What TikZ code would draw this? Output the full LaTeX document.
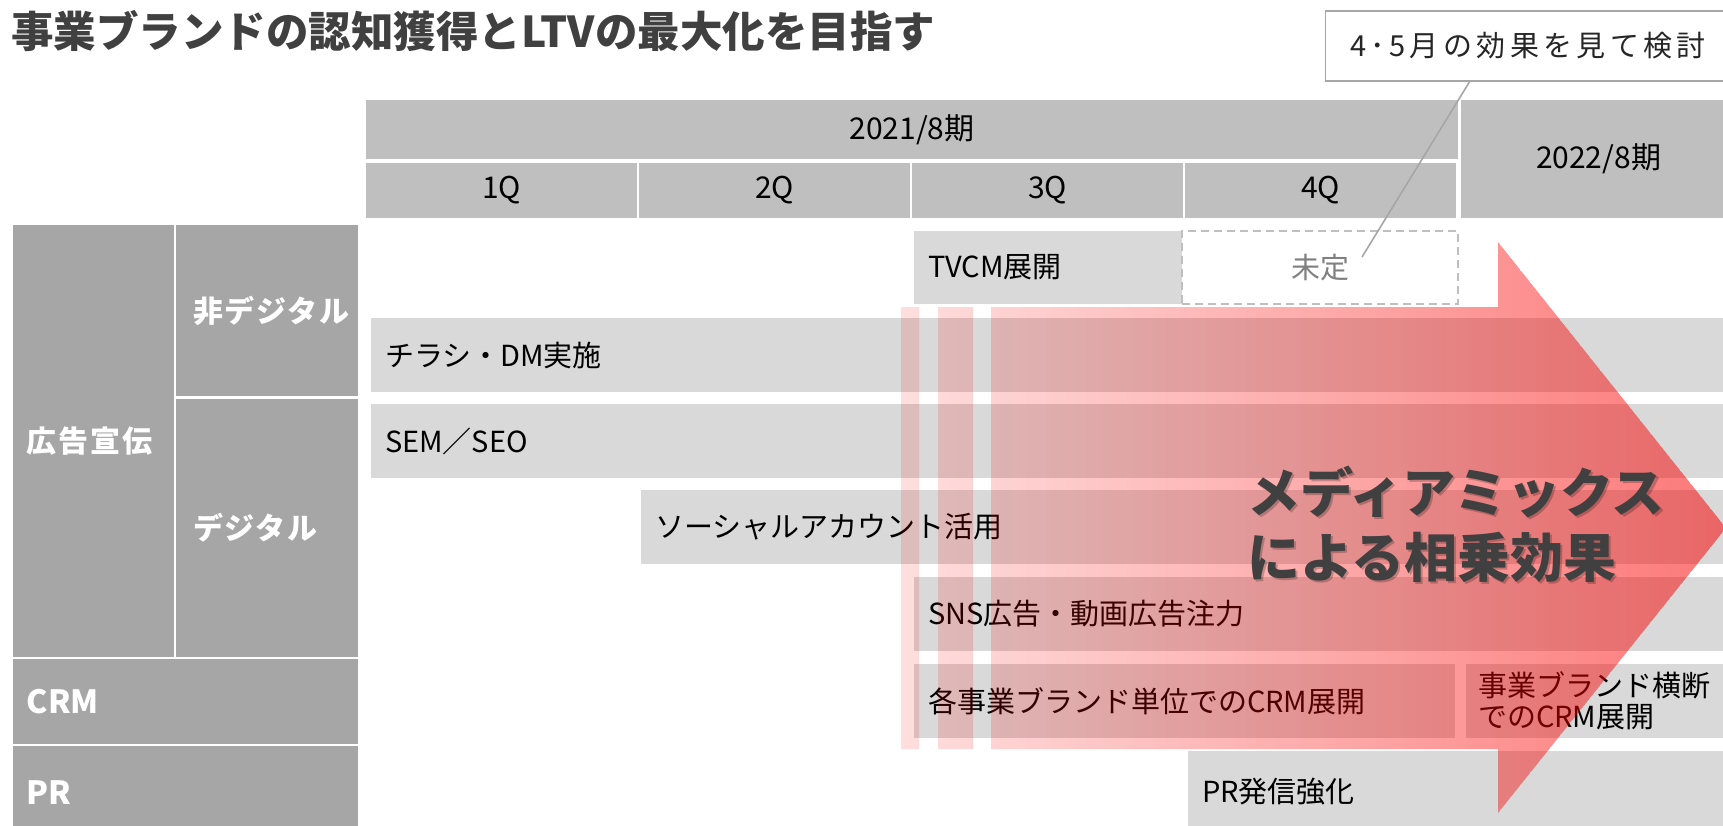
\documentclass[tikz,border=0pt]{standalone}
\usepackage{fontspec}
\setmainfont{Noto Sans CJK JP}
\usetikzlibrary{positioning}

\definecolor{hdrgray}{HTML}{BFBFBF}
\definecolor{rowgray}{HTML}{A6A6A6}
\definecolor{bargray}{HTML}{D9D9D9}
\definecolor{inkgray}{HTML}{404040}
\definecolor{notegray}{HTML}{A6A6A6}
\definecolor{dashgray}{HTML}{BFBFBF}
\definecolor{mixred}{RGB}{250,0,0}

\newcommand\fs[1]{\fontsize{#1}{#1}\selectfont}

\begin{document}
\begin{tikzpicture}[x=1pt,y=-1pt,
    every node/.append style={inner sep=0pt,outer sep=0pt},
    hdrcell/.style={fill=hdrgray,font=\fs{30}},
    rowcell/.style={fill=rowgray,text=white,anchor=north west,align=left,
                    inner xsep=14pt,font=\fs{30}\bfseries\addfontfeature{LetterSpace=6}},
    taskbar/.style={fill=bargray,anchor=north west,minimum height=74pt,
                    inner xsep=14pt,align=left,font=\fontsize{29}{31}\selectfont},
    mixslice/.style={fill=mixred,draw=none},
    leader/.style={draw=notegray,line width=1.6pt}
  ]
  \useasboundingbox (0,0) rectangle (1723,826);
  \clip (0,0) rectangle (1723,826);

  % title
  \node[anchor=west,text=inkgray,font=\fs{42.5}\bfseries] (title) at (11,31)
    {事業ブランドの認知獲得とLTVの最大化を目指す};

  % periods
  \node[hdrcell,minimum width=1092pt,minimum height=59pt,anchor=north west] (fy21) at (366,100) {2021/8期};
  \node[hdrcell,minimum width=271pt,minimum height=55pt,anchor=north west] (q1) at (366,163) {1Q};
  \node[hdrcell,minimum width=271pt,minimum height=55pt,right=2pt of q1] (q2) {2Q};
  \node[hdrcell,minimum width=271pt,minimum height=55pt,right=2pt of q2] (q3) {3Q};
  \node[hdrcell,minimum width=271pt,minimum height=55pt,right=2pt of q3] (q4) {4Q};
  \node[hdrcell,minimum width=275pt,minimum height=118pt,anchor=north west] (fy22) at (1461,100) {2022/8期};

  % row headers
  \node[rowcell,minimum height=432pt,text width=133pt] (ad) at (13,225) {広告宣伝};
  \node[rowcell,minimum height=171pt,text width=148pt,inner xsep=17pt] (nondig) at (176,225) {非デジタル};
  \node[rowcell,minimum height=258pt,text width=148pt,inner xsep=17pt] (dig) at (176,399) {デジタル};
  \node[rowcell,minimum height=85pt,text width=317pt,font=\fs{32}\bfseries] (crm) at (13,659) {CRM};
  \node[rowcell,minimum height=94pt,text width=317pt,font=\fs{32}\bfseries] (pr) at (13,746) {PR};

  % tasks
  \node[taskbar,minimum height=73pt,text width=240pt] (tvcm) at (914,231) {TVCM展開};
  \node[taskbar,minimum height=73pt,minimum width=276pt,fill=white,draw=dashgray,
        line width=2pt,dash pattern=on 8pt off 5pt,text=black!50] (mitei) at (1182,231) {未定};
  \node[taskbar,text width=1334pt] (flyer) at (371,318) {チラシ・DM実施};
  \node[taskbar,text width=1334pt] (sem) at (371,404) {SEM／SEO};
  \node[taskbar,text width=1064pt] (social) at (641,490) {ソーシャルアカウント活用};
  \node[taskbar,text width=791pt] (sns) at (914,577) {SNS広告・動画広告注力};
  \node[taskbar,text width=513pt] (crmunit) at (914,664) {各事業ブランド単位でのCRM展開};
  \node[taskbar,text width=243pt,inner xsep=12pt] (crmcross) at (1466,664) {事業ブランド横断\\でのCRM展開};
  \node[taskbar,minimum height=82pt,text width=517pt] (prbar) at (1188,751) {PR発信強化};

  % note on the undecided slot
  \node[draw=notegray,line width=1.6pt,fill=white,minimum width=405pt,minimum height=70pt,
        text=black!85,font=\fs{29}\addfontfeature{LetterSpace=15}] (note) at (1528,46) {4･5月の効果を見て検討};
  \coordinate (leadend) at (1362,257);
  \draw[leader] ([xshift=-58pt]note.south) -- (leadend);

  % media mix arrow
  \begin{scope}
    \clip (901,307) rectangle (919,749)
          (938,307) rectangle (973,749)
          (991,307) -- (1498,307) -- (1498,242) -- (1726,528) -- (1498,813) -- (1498,749) -- (991,749) -- cycle;
    \foreach \i in {0,...,165} {
      \pgfmathsetmacro\mixop{0.13+0.40*\i/165}
      \fill[mixslice,fill opacity=\mixop] (901+5*\i,240) rectangle +(5,575);
    }
  \end{scope}

  \node[anchor=west,align=left,text=black,opacity=0.22,font=\fontsize{53}{65}\selectfont\bfseries]
    (mixshadow) at (1249.5,526.5) {メディアミックス\\による相乗効果};
  \node[anchor=west,align=left,text=inkgray,font=\fontsize{53}{65}\selectfont\bfseries]
    (mixtext) at (1247,524.5) {メディアミックス\\による相乗効果};
\end{tikzpicture}
\end{document}
